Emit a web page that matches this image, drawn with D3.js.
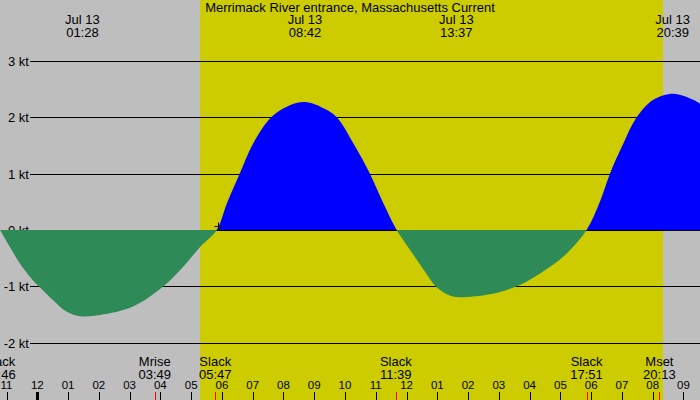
<!DOCTYPE html>
<html>
<head>
<meta charset="utf-8">
<script src="https://cdn.jsdelivr.net/npm/d3@7"></script>
<style>
  body { margin: 0; background: #fff; }
  svg text { font-family: "Liberation Sans", Arial, sans-serif; fill: #000; }
</style>
</head>
<body>
<svg></svg>
<script>
const width = 700;
const height = 400;

// hours from midnight Jul 13, current speed in knots
const hours = [-1.21, -0.89, -0.56, -0.13, 0.09, 0.52, 0.96, 1.39, 2.04, 3.11,
    4.10, 4.75, 5.29, 5.83, 6.16, 6.57, 7.02, 7.60, 8.11, 8.70,
    9.30, 9.73, 10.27, 10.81, 11.25, 11.68, 12.11, 12.55, 12.95, 13.31,
    13.63, 14.71, 15.58, 16.34, 17.10, 17.85, 18.29, 18.61, 19.05, 19.48,
    20.02, 20.67, 21.32, 21.54];
const speeds = [0, -0.30, -0.60, -0.90, -1.02, -1.25, -1.45, -1.53, -1.51, -1.36,
    -1.00, -0.65, -0.30, 0, 0.47, 0.99, 1.54, 2.00, 2.19, 2.27,
    2.16, 2.00, 1.54, 1.00, 0.47, 0, -0.35, -0.70, -1.00, -1.14,
    -1.19, -1.14, -1.00, -0.77, -0.47, 0, 0.51, 1.00, 1.54, 2.00,
    2.31, 2.42, 2.31, 2.24];

const speedTicks = [3, 2, 1, 0, -1, -2];

// max current times, shown at the top
const peakDate = "Jul 13";
const peakLabels = ["01:28", "08:42", "13:37", "20:39"];
const peakHours = [1.467, 8.7, 13.617, 20.65];

// slack and moon events, shown at the bottom
const eventNames = ["Slack", "Mrise", "Slack", "Slack", "Slack", "Mset"];
const eventLabels = ["22:46", "03:49", "05:47", "11:39", "17:51", "20:13"];
const eventHours = [-1.233, 3.817, 5.783, 11.65, 17.85, 20.217];

const sunrise = 5.29;
const sunset = 20.33;
const nowMark = { hour: 5.88, speed: 0.07 };

const title = "Merrimack River entrance, Massachusetts Current";

const data = hours.map((h, i) => ({ h: h, v: speeds[i] }));

const svg = d3.select("svg")
    .attr("width", width)
    .attr("height", height);

const x = d3.scaleLinear().domain([-1.2122, 21.537]).range([0, width]);
const y = d3.scaleLinear().domain([0, 3]).range([230, 61]);

// background: night grey, day yellow
svg.append("rect").attr("width", width).attr("height", height).attr("fill", "#bebebe");
svg.append("rect")
    .attr("x", Math.round(x(sunrise)))
    .attr("width", Math.round(x(sunset)) - Math.round(x(sunrise)))
    .attr("height", height)
    .attr("fill", "#cccc00");

// grid lines + labels
svg.selectAll(".grid")
    .data(speedTicks)
    .enter()
    .append("line")
    .attr("class", "grid")
    .attr("x1", 30).attr("x2", width)
    .attr("y1", d => Math.round(y(d)) + 0.5)
    .attr("y2", d => Math.round(y(d)) + 0.5)
    .attr("stroke", "#000");

svg.selectAll(".ylab")
    .data(speedTicks)
    .enter()
    .append("text")
    .attr("class", "ylab")
    .attr("x", 29)
    .attr("y", d => Math.round(y(d)) + 5)
    .attr("text-anchor", "end")
    .style("font-size", "13px")
    .text(d => `${d} kt`);

// current curve, split into flood (above 0) and ebb (below 0)
const defs = svg.append("defs");
defs.append("clipPath").attr("id", "flood")
    .append("rect").attr("x", 0).attr("y", 0).attr("width", width).attr("height", y(0));
defs.append("clipPath").attr("id", "ebb")
    .append("rect").attr("x", 0).attr("y", y(0)).attr("width", width).attr("height", height - y(0));

const area = d3.area()
    .x(d => x(d.h))
    .y0(y(0))
    .y1(d => y(d.v))
    .curve(d3.curveCatmullRom.alpha(0.5));

svg.append("path")
    .datum(data)
    .attr("d", area)
    .attr("fill", "#0000ff")
    .attr("clip-path", "url(#flood)");

svg.append("path")
    .datum(data)
    .attr("d", area)
    .attr("fill", "#2e8b57")
    .attr("clip-path", "url(#ebb)");

// small cross marker
const mx = Math.round(x(nowMark.hour)) + 0.5;
const my = Math.round(y(nowMark.speed)) + 0.5;
svg.append("path")
    .attr("d", `M${mx - 4},${my}H${mx + 4}M${mx},${my - 4}V${my + 4}`)
    .attr("stroke", "#000");

// title
svg.append("text")
    .attr("x", width / 2)
    .attr("y", 12)
    .attr("text-anchor", "middle")
    .style("font-size", "13px")
    .text(title);

// peak labels
const peaks = svg.selectAll(".peak")
    .data(peakHours)
    .enter()
    .append("text")
    .attr("class", "peak")
    .attr("text-anchor", "middle")
    .style("font-size", "13px");
peaks.append("tspan").attr("x", d => x(d)).attr("y", 24).text(peakDate);
peaks.append("tspan").attr("x", d => x(d)).attr("y", 37).text((d, i) => peakLabels[i]);

// event labels
const events = svg.selectAll(".event")
    .data(eventHours)
    .enter()
    .append("text")
    .attr("class", "event")
    .attr("text-anchor", "middle")
    .style("font-size", "13px");
events.append("tspan").attr("x", d => x(d)).attr("y", 366).text((d, i) => eventNames[i]);
events.append("tspan").attr("x", d => x(d)).attr("y", 379).text((d, i) => eventLabels[i]);

// hour axis
const hourTicks = d3.range(-1, 22);
const hourFmt = h => String((h + 23) % 12 + 1).padStart(2, "0");

svg.selectAll(".htick")
    .data(hourTicks)
    .enter()
    .append("line")
    .attr("class", "htick")
    .attr("x1", d => Math.round(x(d)) + 0.5)
    .attr("x2", d => Math.round(x(d)) + 0.5)
    .attr("y1", 392).attr("y2", height)
    .attr("stroke", "#000")
    .attr("stroke-width", d => d === 0 ? 3 : 1);

svg.selectAll(".etick")
    .data(eventHours)
    .enter()
    .append("line")
    .attr("class", "etick")
    .attr("x1", d => Math.round(x(d)) + 0.5)
    .attr("x2", d => Math.round(x(d)) + 0.5)
    .attr("y1", 392).attr("y2", height)
    .attr("stroke", "#ff0000");

svg.selectAll(".hlab")
    .data(hourTicks)
    .enter()
    .append("text")
    .attr("class", "hlab")
    .attr("x", d => x(d))
    .attr("y", 389)
    .attr("text-anchor", "middle")
    .style("font-size", "11.5px")
    .text(hourFmt);
</script>
</body>
</html>
